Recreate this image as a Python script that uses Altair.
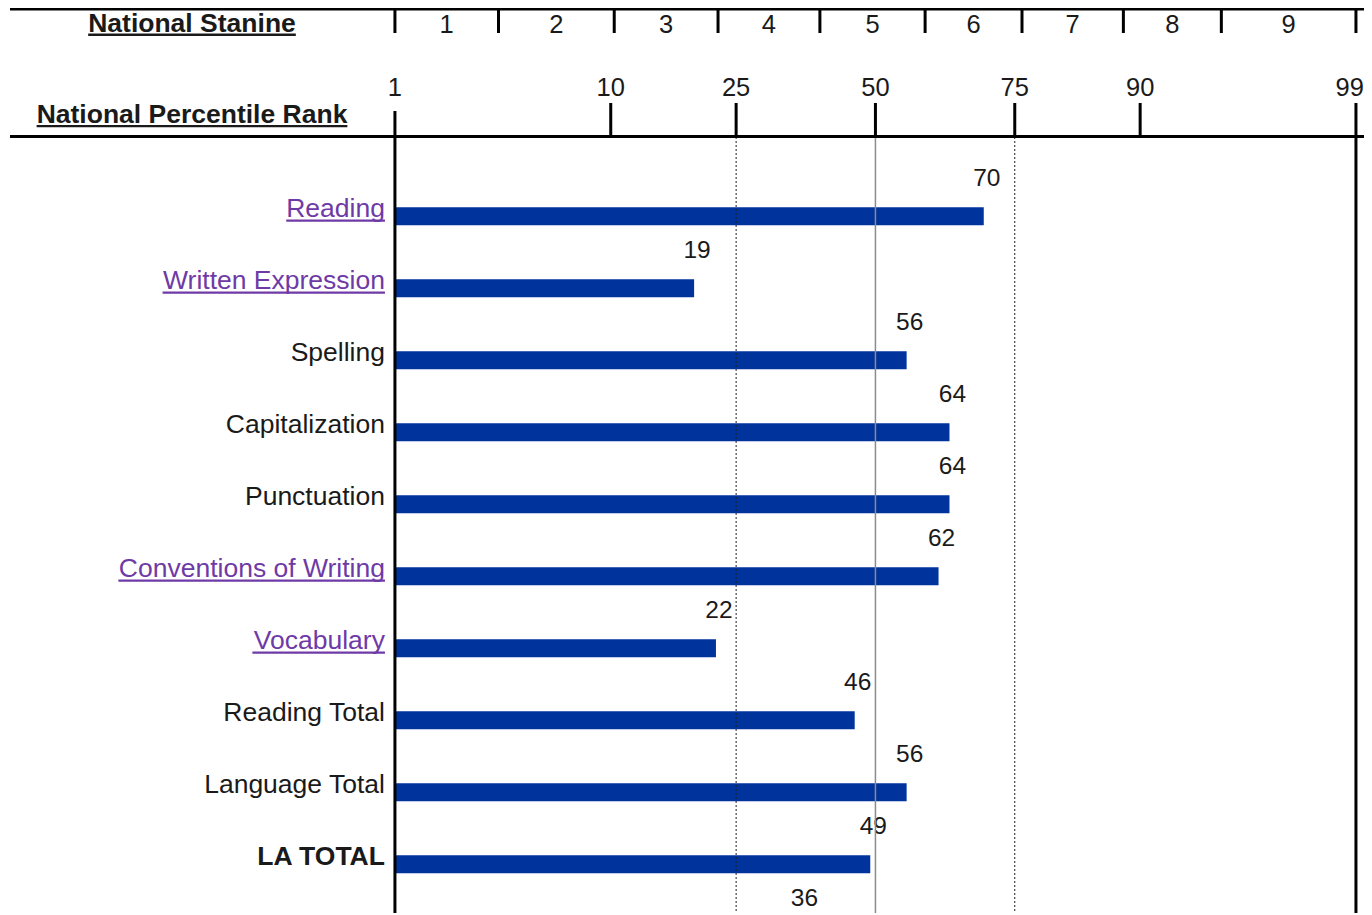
import altair as alt
import pandas as pd

# ---------------- data ----------------
# the 11th row is cut off at the bottom of the reference: only its value (36) is visible
categories = ["Reading", "Written Expression", "Spelling", "Capitalization", "Punctuation",
              "Conventions of Writing", "Vocabulary", "Reading Total", "Language Total",
              "LA TOTAL", ""]
npr = [70, 19, 56, 64, 64, 62, 22, 46, 56, 49, 36]
link_categories = ["Reading", "Written Expression", "Conventions of Writing", "Vocabulary"]
bold_categories = ["LA TOTAL"]
percentile_ticks = [1, 10, 25, 50, 75, 90, 99]
dotted_grid = [25, 75]
solid_grid = [50]
stanine_labels = ["1", "2", "3", "4", "5", "6", "7", "8", "9"]
stanine_bounds = [1, 3.4, 10.3, 22.3, 39.4, 59.5, 76.1, 88.5, 95.3, 99]
header_stanine = "National Stanine"
header_percentile = "National Percentile Rank"

# ---------------- layout / style ----------------
W, H = 1354, 776
PXZ = 206.55                     # pixels per standard-normal unit
Z_LEFT = -4.19
Z_DOMAIN = [Z_LEFT, Z_LEFT + W / PXZ]
ROW_PX = 72
ROW_TOP = -1.1
ROW_DOMAIN = [ROW_TOP, ROW_TOP + H / ROW_PX]
FONT = "Liberation Sans"
LABEL_SIZE = 26.5
NUM_SIZE = 24.5
HEAD_NUM_SIZE = 25.5
BAR = "#00339c"
PURPLE = "#6e3aa6"
INK = "#1a1a1a"
HEAD_X = 182

# Arial / Liberation Sans advance widths (1/1000 em) for underline lengths
REG = {' ': 278, 'a': 556, 'b': 556, 'c': 500, 'd': 556, 'e': 556, 'f': 278, 'g': 556,
       'i': 222, 'l': 222, 'n': 556, 'o': 556, 'p': 556, 'r': 333, 's': 500, 't': 278,
       'u': 556, 'v': 500, 'x': 500, 'y': 500, 'C': 722, 'E': 667, 'R': 722, 'V': 667,
       'W': 944, 'S': 667, 'P': 667, 'L': 556, 'T': 611, 'A': 667, 'O': 778, 'M': 833,
       'h': 556, 'm': 833, 'k': 500}
BOLD = {' ': 278, 'a': 556, 'c': 556, 'e': 556, 'i': 278, 'k': 556, 'l': 278, 'n': 611,
        'o': 611, 'r': 389, 't': 333, 'N': 722, 'P': 667, 'R': 722, 'S': 667}


def text_width(s, table, size):
    return sum(table.get(c, 556) for c in s) / 1000.0 * size


xs = alt.Scale(domain=Z_DOMAIN, nice=False, zero=False)
ys = alt.Scale(domain=ROW_DOMAIN, nice=False, zero=False, reverse=True)


def X(f):
    return alt.X(f, type="quantitative", scale=xs, axis=None)


def Y(f):
    return alt.Y(f, type="quantitative", scale=ys, axis=None)


def zexpr(field):
    return f"quantileNormal(datum.{field} / 100)"


rows = pd.DataFrame({"cat": categories, "npr": npr, "row": list(range(len(categories)))})
rows["link"] = rows["cat"].isin(link_categories)
rows["bold"] = rows["cat"].isin(bold_categories)
rows["uw"] = [text_width(c, REG, LABEL_SIZE) for c in categories]

rb = alt.Chart(rows).transform_calculate(
    z=zexpr("npr"), z0=f"quantileNormal({percentile_ticks[0]} / 100)"
)

bars = rb.mark_rule(strokeWidth=18, color=BAR, strokeCap="butt", clip=True).encode(
    x=X("z0"), x2="z:Q", y=Y("row")
)

labels_normal = rb.transform_filter("!datum.bold && datum.cat != ''").mark_text(
    font=FONT, fontSize=LABEL_SIZE, align="right", baseline="alphabetic", dx=-10, dy=1, clip=True
).encode(
    x=X("z0"), y=Y("row"), text="cat:N",
    color=alt.condition(alt.datum.link, alt.value(PURPLE), alt.value(INK)),
)

labels_bold = rb.transform_filter("datum.bold").mark_text(
    font=FONT, fontSize=LABEL_SIZE, fontWeight="bold", align="right", baseline="alphabetic",
    dx=-10, dy=1, color=INK, clip=True
).encode(x=X("z0"), y=Y("row"), text="cat:N")

underlines = rb.transform_filter("datum.link").transform_calculate(
    ur=f"datum.z0 - 10 / {PXZ}", ul=f"datum.z0 - (10 + datum.uw) / {PXZ}"
).mark_rule(strokeWidth=2.2, color=PURPLE, yOffset=4.5, clip=True).encode(
    x=X("ul"), x2="ur:Q", y=Y("row")
)

values = rb.mark_text(
    font=FONT, fontSize=NUM_SIZE, color=INK, dx=3, dy=-37, baseline="middle", align="center"
).encode(x=X("z"), y=Y("row"), text="npr:Q")

grid_dot = alt.Chart(pd.DataFrame({"p": dotted_grid})).transform_calculate(
    z=zexpr("p")
).mark_rule(color="#222222", strokeWidth=1, strokeDash=[2, 2]).encode(x=X("z"))

grid_solid = alt.Chart(pd.DataFrame({"p": solid_grid})).transform_calculate(
    z=zexpr("p")
).mark_rule(color="#8c8c8c", strokeWidth=1.5).encode(x=X("z"))

borders = alt.Chart(pd.DataFrame({"p": [percentile_ticks[0], percentile_ticks[-1]]})).transform_calculate(
    z=zexpr("p")
).mark_rule(color="black", strokeWidth=3).encode(x=X("z"))

pt = alt.Chart(pd.DataFrame({"p": percentile_ticks})).transform_calculate(z=zexpr("p"))
top_ticks = pt.transform_filter(f"datum.p > {percentile_ticks[0]}").mark_rule(
    color="black", strokeWidth=3
).encode(x=X("z"), y=alt.value(-34), y2=alt.value(0))
first_tick = pt.transform_filter(f"datum.p == {percentile_ticks[0]}").mark_rule(
    color="black", strokeWidth=3
).encode(x=X("z"), y=alt.value(-26), y2=alt.value(0))
pct_labels = pt.transform_filter(f"datum.p < {percentile_ticks[-1]}").mark_text(
    font=FONT, fontSize=HEAD_NUM_SIZE, color=INK, baseline="middle", align="center"
).encode(x=X("z"), y=alt.value(-49), text="p:Q")
# the last label sits at the right edge of the page: keep it inside the picture
pct_last = pt.transform_filter(f"datum.p == {percentile_ticks[-1]}").mark_text(
    font=FONT, fontSize=HEAD_NUM_SIZE, color=INK, baseline="middle", align="right", dx=8
).encode(x=X("z"), y=alt.value(-49), text="p:Q")

st_ticks = alt.Chart(pd.DataFrame({"b": stanine_bounds})).transform_calculate(
    z=zexpr("b")
).mark_rule(color="black", strokeWidth=3).encode(x=X("z"), y=alt.value(-128), y2=alt.value(-104))

st_df = pd.DataFrame({"s": stanine_labels, "lo": stanine_bounds[:-1], "hi": stanine_bounds[1:]})
st_labels = alt.Chart(st_df).transform_calculate(
    zm="(quantileNormal(datum.lo / 100) + quantileNormal(datum.hi / 100)) / 2"
).mark_text(
    font=FONT, fontSize=HEAD_NUM_SIZE, color=INK, baseline="middle", align="center"
).encode(x=X("zm"), y=alt.value(-112.5), text="s:N")

one = pd.DataFrame({"k": [0]})
top_line = alt.Chart(one).mark_rule(color="black", strokeWidth=3).encode(
    x=alt.value(0), x2=alt.value(W), y=alt.value(-128)
)
mid_line = alt.Chart(one).mark_rule(color="black", strokeWidth=3).encode(
    x=alt.value(0), x2=alt.value(W), y=alt.value(-0.5)
)

heads = []
for txt, base_y in [(header_stanine, -105), (header_percentile, -13.7)]:
    w = text_width(txt, BOLD, LABEL_SIZE)
    heads.append(
        alt.Chart(pd.DataFrame({"t": [txt]})).mark_text(
            font=FONT, fontSize=LABEL_SIZE, fontWeight="bold", color=INK,
            align="center", baseline="alphabetic"
        ).encode(x=alt.value(HEAD_X), y=alt.value(base_y), text="t:N")
    )
    heads.append(
        alt.Chart(one).mark_rule(color=INK, strokeWidth=2.4).encode(
            x=alt.value(HEAD_X - w / 2), x2=alt.value(HEAD_X + w / 2), y=alt.value(base_y + 2.8)
        )
    )

chart = alt.layer(
    bars, labels_normal, labels_bold, underlines, values,
    grid_dot, grid_solid, borders, top_ticks, first_tick, pct_labels, pct_last,
    st_ticks, st_labels, top_line, mid_line, *heads
).properties(
    width=W, height=H,
    autosize=alt.AutoSizeParams(type="none"),
    padding={"left": 2, "top": 129, "right": 0, "bottom": 0},
).configure_view(strokeWidth=0)

chart.save("out.html", embed_options={"renderer": "svg", "actions": False})
